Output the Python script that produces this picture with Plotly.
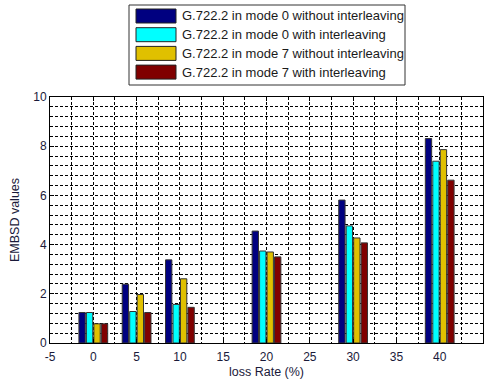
import plotly.graph_objects as go

loss_rate = [0, 5, 10, 20, 30, 40]
series_names = [
    "G.722.2 in mode 0 without interleaving",
    "G.722.2 in mode 0 with interleaving",
    "G.722.2 in mode 7 without interleaving",
    "G.722.2 in mode 7 with interleaving",
]
mode0_no_il = [1.24, 2.39, 3.38, 4.55, 5.81, 8.31]
mode0_il = [1.24, 1.28, 1.57, 3.74, 4.76, 7.39]
mode7_no_il = [0.78, 1.97, 2.61, 3.70, 4.27, 7.86]
mode7_il = [0.78, 1.24, 1.45, 3.50, 4.07, 6.62]
colors = ["#000080", "#00FFFF", "#E0C000", "#800000"]
x_ticks = [-5, 0, 5, 10, 15, 20, 25, 30, 35, 40, 45]
x_ticktext = ["-5", "0", "5", "10", "15", "20", "25", "30", "35", "40", "45"]

W, H = 489, 385
ML, MR, MT, MB = 50, 6, 97, 42
pw, ph = W - ML - MR, H - MT - MB

def px(x):
    return (x - ML) / pw

def py(y):
    return (H - MB - y) / ph

fig = go.Figure()
for name, vals, c in zip(series_names, [mode0_no_il, mode0_il, mode7_no_il, mode7_il], colors):
    fig.add_trace(go.Bar(x=loss_rate, y=vals, name=name, showlegend=False,
                         marker=dict(color=c, line=dict(color="#333", width=1))))

# custom legend box (MATLAB-style large swatches)
shapes = [dict(type="rect", xref="paper", yref="paper", x0=px(129), x1=px(405), y0=py(85), y1=py(5),
               line=dict(color="#333", width=1), fillcolor="white", layer="above")]
annotations = []
for i, (name, c) in enumerate(zip(series_names, colors)):
    top = 9 + i * 18.7
    shapes.append(dict(type="rect", xref="paper", yref="paper", x0=px(136), x1=px(176),
                       y0=py(top + 14), y1=py(top), line=dict(color="#222", width=1), fillcolor=c, layer="above"))
    annotations.append(dict(xref="paper", yref="paper", x=px(180), y=py(top + 7), xanchor="left", yanchor="middle",
                            text=name, showarrow=False, font=dict(size=13, color="#1a1a1a")))

fnt = dict(family="Liberation Sans, Arial, sans-serif", size=12, color="#1a1a3a")
dash = "3px,2px"
fig.update_layout(
    width=W, height=H,
    margin=dict(l=ML, r=MR, t=MT, b=MB),
    paper_bgcolor="white", plot_bgcolor="white",
    barmode="group", bargap=0.31, bargroupgap=0.15,
    font=fnt, shapes=shapes, annotations=annotations,
    xaxis=dict(range=[-5, 45], tickvals=x_ticks, ticktext=x_ticktext, ticks="inside", ticklen=4, tickcolor="black",
               showline=True, mirror="ticks", linecolor="black", linewidth=1, zeroline=False,
               ticklabelstandoff=3,
               title=dict(text="loss Rate (%)", standoff=3, font=dict(size=12.5)),
               showgrid=True, gridcolor="black", griddash=dash, gridwidth=1,
               minor=dict(dtick=2.5, tick0=0, showgrid=True, gridcolor="black", griddash=dash, ticks="")),
    yaxis=dict(range=[0, 10], dtick=2, ticks="inside", ticklen=4, tickcolor="black",
               showline=True, mirror="ticks", linecolor="black", linewidth=1, zeroline=False,
               title=dict(text="EMBSD values", standoff=10, font=dict(size=12.5)),
               showgrid=True, gridcolor="black", griddash=dash, gridwidth=1,
               minor=dict(dtick=0.4, tick0=0, showgrid=True, gridcolor="black", griddash=dash, ticks="")),
)
fig.write_html("out.html")
